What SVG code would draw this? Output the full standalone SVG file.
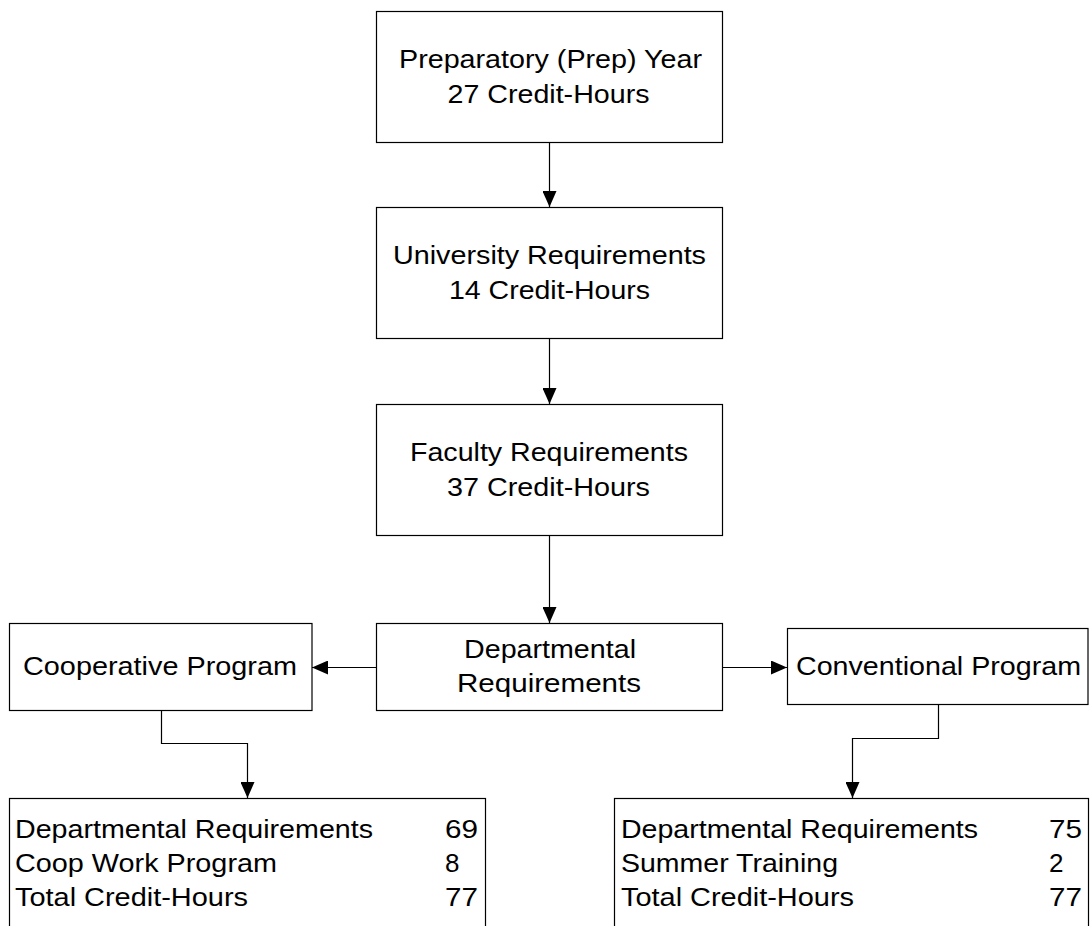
<svg xmlns="http://www.w3.org/2000/svg" width="1090" height="926" viewBox="0 0 1090 926">
<style>
.box{fill:#fff;stroke:#000;stroke-width:1.2}
.t{font-family:"Liberation Sans",Arial,sans-serif;font-size:26px;fill:#000}
.c{text-anchor:middle}
.con{fill:none;stroke:#000;stroke-width:1.2}
</style>
<defs>
<marker id="ah" markerUnits="userSpaceOnUse" markerWidth="16" markerHeight="14" viewBox="0 0 16 14" refX="16" refY="7" orient="auto">
<path d="M0,0 L16,7 L0,14 Z" fill="#000"/>
</marker>
</defs>
<rect width="1090" height="926" fill="#fff"/>
<g id="connectors">
<line class="con" x1="549.5" y1="142.5" x2="549.5" y2="207" marker-end="url(#ah)"/>
<line class="con" x1="549.5" y1="338.5" x2="549.5" y2="404" marker-end="url(#ah)"/>
<line class="con" x1="549.5" y1="535.5" x2="549.5" y2="623" marker-end="url(#ah)"/>
<line class="con" x1="376.5" y1="667.5" x2="312" y2="667.5" marker-end="url(#ah)"/>
<line class="con" x1="722.5" y1="667.5" x2="787" y2="667.5" marker-end="url(#ah)"/>
<polyline class="con" points="161.5,710.5 161.5,743.5 247.5,743.5 247.5,798" marker-end="url(#ah)"/>
<polyline class="con" points="938.5,704.5 938.5,738.5 852.5,738.5 852.5,798" marker-end="url(#ah)"/>
</g>
<g id="prep">
<rect class="box" x="376.5" y="11.5" width="346" height="131"/>
<text class="t c" x="550.5" y="68" textLength="303" lengthAdjust="spacingAndGlyphs">Preparatory (Prep) Year</text>
<text class="t c" x="548.5" y="103" textLength="202" lengthAdjust="spacingAndGlyphs">27 Credit-Hours</text>
</g>
<g id="university">
<rect class="box" x="376.5" y="207.5" width="346" height="131"/>
<text class="t c" x="549.5" y="264" textLength="313" lengthAdjust="spacingAndGlyphs">University Requirements</text>
<text class="t c" x="549.5" y="299" textLength="201" lengthAdjust="spacingAndGlyphs">14 Credit-Hours</text>
</g>
<g id="faculty">
<rect class="box" x="376.5" y="404.5" width="346" height="131"/>
<text class="t c" x="549" y="461" textLength="278" lengthAdjust="spacingAndGlyphs">Faculty Requirements</text>
<text class="t c" x="548.5" y="496" textLength="203" lengthAdjust="spacingAndGlyphs">37 Credit-Hours</text>
</g>
<g id="departmental">
<rect class="box" x="376.5" y="623.5" width="346" height="87"/>
<text class="t c" x="550" y="658" textLength="172" lengthAdjust="spacingAndGlyphs">Departmental</text>
<text class="t c" x="549" y="692" textLength="184" lengthAdjust="spacingAndGlyphs">Requirements</text>
</g>
<g id="cooperative">
<rect class="box" x="9.5" y="623.5" width="302.5" height="87"/>
<text class="t c" x="160" y="675" textLength="274" lengthAdjust="spacingAndGlyphs">Cooperative Program</text>
</g>
<g id="conventional">
<rect class="box" x="787.5" y="628.5" width="300.5" height="76"/>
<text class="t c" x="938.5" y="675" textLength="285" lengthAdjust="spacingAndGlyphs">Conventional Program</text>
</g>
<g id="coop-table">
<rect class="box" x="9.5" y="798.5" width="476" height="160"/>
<text class="t" x="15" y="838" textLength="358" lengthAdjust="spacingAndGlyphs">Departmental Requirements</text>
<text class="t" x="15" y="872" textLength="262" lengthAdjust="spacingAndGlyphs">Coop Work Program</text>
<text class="t" x="15" y="906" textLength="233" lengthAdjust="spacingAndGlyphs">Total Credit-Hours</text>
<text class="t" x="445" y="838" textLength="33" lengthAdjust="spacingAndGlyphs">69</text>
<text class="t" x="445" y="872">8</text>
<text class="t" x="445" y="906" textLength="33" lengthAdjust="spacingAndGlyphs">77</text>
</g>
<g id="conv-table">
<rect class="box" x="614.5" y="798.5" width="474" height="160"/>
<text class="t" x="621" y="838" textLength="357" lengthAdjust="spacingAndGlyphs">Departmental Requirements</text>
<text class="t" x="621" y="872" textLength="217" lengthAdjust="spacingAndGlyphs">Summer Training</text>
<text class="t" x="621" y="906" textLength="233" lengthAdjust="spacingAndGlyphs">Total Credit-Hours</text>
<text class="t" x="1049" y="838" textLength="33" lengthAdjust="spacingAndGlyphs">75</text>
<text class="t" x="1049" y="872">2</text>
<text class="t" x="1049" y="906" textLength="33" lengthAdjust="spacingAndGlyphs">77</text>
</g>
</svg>
